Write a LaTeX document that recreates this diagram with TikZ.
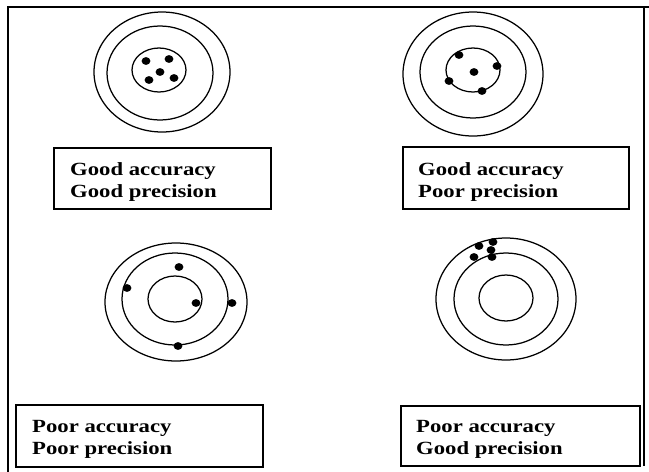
\documentclass[tikz,border=0pt]{standalone}
\usepackage{fontspec}
\usepackage{graphicx}
\setmainfont{Liberation Serif}
\newcommand{\widetxt}[1]{\scalebox{1.22}[1]{#1}}
\begin{document}
\begin{tikzpicture}[x=1pt,y=-1pt,
  ring/.style={line width=1.25pt},
  hit/.style={fill=black},
  lab/.style={anchor=base west, inner sep=0pt, font=\fontsize{18.6}{22}\selectfont\bfseries},
  box/.style={draw, line width=1.3pt, rectangle, inner sep=0pt},
  frame/.style={line width=1.6pt}]
\path[use as bounding box] (0,0) rectangle (649,472);
% outer frame
\draw[frame] (8,472) -- (8,7) -- (649,7);
\draw[frame] (644,7) -- (644,466);
% target 1: good accuracy, good precision
\draw[ring] (162,72) ellipse [x radius=68, y radius=60];
\draw[ring] (160,73) ellipse [x radius=53, y radius=47];
\draw[ring] (159,70) ellipse [x radius=27, y radius=22];
\foreach \p in {(146,61),(169,59),(160,72),(149,80),(174,78)} \fill[hit] \p ellipse [x radius=4.4, y radius=3.9];
% target 2: good accuracy, poor precision
\draw[ring] (473,74) ellipse [x radius=70, y radius=62];
\draw[ring] (473,72) ellipse [x radius=53, y radius=46];
\draw[ring] (473,70) ellipse [x radius=27, y radius=22];
\foreach \p in {(459,55),(497,66),(474,72),(449,81),(482,91)} \fill[hit] \p ellipse [x radius=4.4, y radius=3.9];
% target 3: poor accuracy, poor precision
\draw[ring] (176,302) ellipse [x radius=71, y radius=59];
\draw[ring] (175,299) ellipse [x radius=53, y radius=46];
\draw[ring] (175,299) ellipse [x radius=27, y radius=23];
\foreach \p in {(179,267),(127,288),(196,303),(232,303),(178,346)} \fill[hit] \p ellipse [x radius=4.4, y radius=3.9];
% target 4: poor accuracy, good precision
\draw[ring] (506,299) ellipse [x radius=70, y radius=61];
\draw[ring] (506,299) ellipse [x radius=52, y radius=46];
\draw[ring] (506,298) ellipse [x radius=27, y radius=23];
\foreach \p in {(479,246),(493,242),(491,250),(474,257),(492,257)} \fill[hit] \p ellipse [x radius=4.4, y radius=3.9];
% label boxes
\node[box, minimum width=217pt, minimum height=61pt] (b1) at (162.5,178.5) {};
\node[lab] (b1a) at (70,175) {\widetxt{Good accuracy}};
\node[lab] (b1b) at (70,197) {\widetxt{Good precision}};
\node[box, minimum width=226pt, minimum height=62pt] (b2) at (516,178) {};
\node[lab] (b2a) at (418,175) {\widetxt{Good accuracy}};
\node[lab] (b2b) at (418,197) {\widetxt{Poor precision}};
\node[box, minimum width=247pt, minimum height=62pt] (b3) at (139.5,436) {};
\node[lab] (b3a) at (32,432) {\widetxt{Poor accuracy}};
\node[lab] (b3b) at (32,454) {\widetxt{Poor precision}};
\node[box, minimum width=239pt, minimum height=60pt] (b4) at (520.5,436) {};
\node[lab] (b4a) at (416,432) {\widetxt{Poor accuracy}};
\node[lab] (b4b) at (416,454) {\widetxt{Good precision}};
\end{tikzpicture}
\end{document}
